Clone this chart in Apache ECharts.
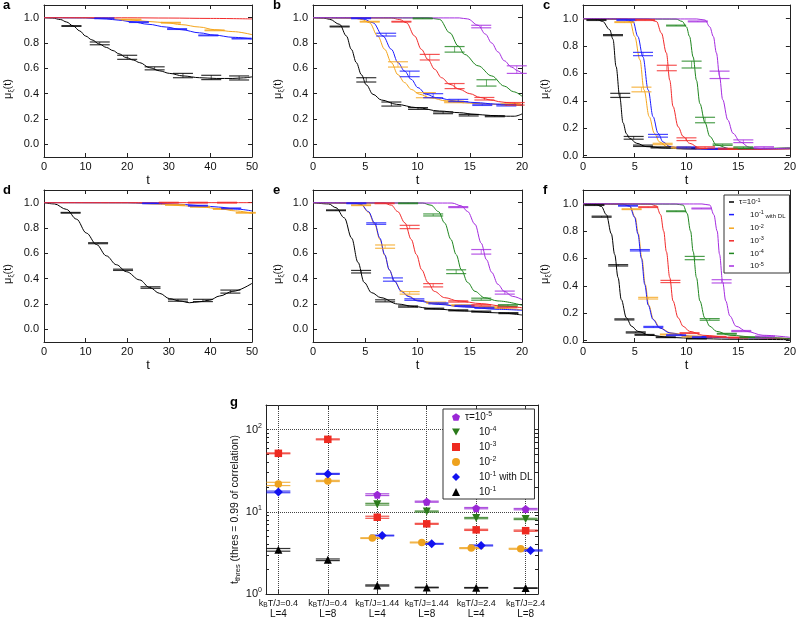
<!DOCTYPE html>
<html><head><meta charset="utf-8">
<script src="https://cdn.jsdelivr.net/npm/echarts@6/dist/echarts.min.js"></script>
<style>html,body{margin:0;padding:0;background:#fff}#c{width:799px;height:626px}</style>
</head><body><div id="c"></div>
<script>
// ---------- Panel a (t 0..50) ----------
const aK = [[0,1],[2,0.997],[4,0.985],[5.4,0.966],[7,0.935],[8.6,0.895],[10,0.855],[11.5,0.825],[13.4,0.79],[15,0.765],[16.6,0.74],[18,0.715],[19.8,0.685],[21.5,0.665],[23,0.645],[25.4,0.605],[27.8,0.58],[30.2,0.56],[33.4,0.54],[37.4,0.526],[41.4,0.52],[45.4,0.52],[48,0.525],[50,0.533]];
const aKBars = [[6.6,0.934,0.003],[13.4,0.797,0.011],[20,0.687,0.016],[26.6,0.6,0.012],[33.4,0.543,0.017],[40.2,0.528,0.017],[46.9,0.524,0.016]];
const aDL = [[0,1],[10,0.998],[15,0.99],[18,0.98],[21.4,0.966],[25,0.948],[29.4,0.926],[33,0.905],[37.4,0.88],[41,0.862],[45.4,0.845],[50,0.832]];
const aDLBars = [[14.5,0.995,0.003],[22.8,0.965,0.003],[32,0.91,0.003],[39.5,0.86,0.003],[47.5,0.835,0.003]];
const aO = [[0,1],[12,0.998],[17,0.99],[21.4,0.98],[25,0.97],[29.4,0.96],[33,0.945],[37.4,0.926],[41,0.905],[45.4,0.89],[50,0.866]];
const aOBars = [[21,0.985,0.003],[30.5,0.96,0.003],[41,0.9,0.003]];
const aR = [[0,1],[20,0.999],[30,0.997],[40,0.994],[50,0.99]];
// ---------- Panel b (t 0..20) ----------
const bK = [[0,1],[1,0.997],[1.6,0.987],[2.55,0.947],[3.2,0.855],[3.67,0.75],[4.15,0.645],[4.63,0.55],[5.1,0.47],[5.74,0.395],[6.55,0.35],[7.98,0.316],[9.9,0.29],[12.1,0.263],[14,0.25],[15.5,0.237],[17,0.228],[18.5,0.222],[19.3,0.222],[20,0.24]];
const bKBars = [[2.55,0.93,0.003],[5.1,0.509,0.017],[7.5,0.318,0.016],[10.05,0.283,0.007],[12.45,0.249,0.007],[14.9,0.23,0.006],[17.4,0.222,0.004]];
const bDL = [[0,1],[4,0.998],[4.8,0.99],[5.74,0.96],[6.7,0.855],[7.5,0.75],[8.13,0.645],[8.77,0.578],[9.4,0.513],[10.05,0.447],[10.85,0.395],[11.8,0.368],[13.7,0.342],[15.5,0.33],[17.5,0.318],[20,0.308]];
const bDLBars = [[4.6,0.995,0.003],[7.0,0.866,0.011],[9.25,0.556,0.022],[11.5,0.384,0.016],[13.9,0.346,0.009],[16.2,0.312,0.005],[18.5,0.308,0.005]];
const bO = [[0,1],[3.8,0.998],[4.7,0.985],[5.4,0.96],[6.2,0.855],[6.86,0.75],[7.5,0.645],[8.13,0.55],[8.77,0.487],[9.4,0.434],[10.2,0.395],[11.2,0.368],[12.8,0.342],[15,0.325],[17.5,0.315],[20,0.305]];
const bOBars = [[5.43,0.968,0.003],[8.13,0.631,0.021],[10.8,0.388,0.02],[13.5,0.335,0.006],[18.9,0.315,0.005]];
const bR = [[0,1],[7.5,0.998],[8.3,0.985],[8.94,0.96],[9.73,0.855],[10.37,0.75],[11,0.67],[11.65,0.592],[12.3,0.526],[13.1,0.474],[14.04,0.434],[15,0.4],[16,0.37],[17,0.35],[18,0.335],[19,0.325],[20,0.315]];
const bRBars = [[8.46,0.968,0.003],[11.17,0.688,0.022],[13.55,0.46,0.02],[16.4,0.36,0.01],[19.3,0.32,0.01]];
const bG = [[0,1],[11,0.998],[12.1,0.987],[13.1,0.88],[13.9,0.776],[14.5,0.71],[15.8,0.62],[17.1,0.54],[18.3,0.46],[19.2,0.415],[20,0.38]];
const bGBars = [[10.5,0.994,0.003],[13.55,0.75,0.022],[16.6,0.485,0.025]];
const bP = [[0,1],[14,0.998],[14.8,0.99],[15.8,0.94],[16.5,0.87],[17.1,0.8],[17.7,0.73],[18.3,0.66],[19,0.61],[19.6,0.58],[20,0.56]];
const bPBars = [[16.1,0.93,0.01],[19.5,0.59,0.03]];
// ---------- Panel c ----------
const cK = [[0,1],[1.3,0.997],[1.9,0.98],[2.58,0.92],[2.9,0.85],[3.2,0.65],[3.55,0.43],[3.87,0.24],[4.2,0.16],[4.5,0.127],[5.2,0.09],[6.1,0.066],[8,0.055],[11,0.05],[15,0.05],[20,0.055]];
const cKBars = [[1.3,0.99,0.003],[2.9,0.88,0.004],[3.6,0.44,0.015],[4.9,0.13,0.01],[5.8,0.072,0.005],[7.5,0.06,0.004],[10,0.055,0.004]];
const cDL = [[0,1],[4.2,0.997],[4.84,0.98],[5.3,0.87],[5.8,0.72],[6.3,0.48],[6.77,0.285],[7.26,0.163],[7.74,0.1],[8.4,0.066],[9.7,0.05],[13,0.045],[20,0.05]];
const cDLBars = [[4.2,0.99,0.003],[5.8,0.742,0.012],[7.25,0.145,0.01],[10,0.06,0.004],[13,0.05,0.004]];
const cO = [[0,1],[3.9,0.997],[4.55,0.98],[5.0,0.87],[5.5,0.7],[5.9,0.48],[6.4,0.285],[6.9,0.163],[7.4,0.1],[8.1,0.066],[9.4,0.05],[13,0.045],[20,0.05]];
const cOBars = [[4.0,0.975,0.003],[5.65,0.483,0.017],[7.7,0.085,0.005],[9.5,0.06,0.004]];
const cR = [[0,1],[6.3,0.997],[7.1,0.98],[7.58,0.895],[8.06,0.75],[8.39,0.55],[8.7,0.36],[9.2,0.21],[9.68,0.14],[10.3,0.09],[11.3,0.054],[14,0.045],[20,0.05]];
const cRBars = [[6.0,0.99,0.003],[8.1,0.64,0.02],[10.0,0.12,0.01],[11.8,0.06,0.005],[14,0.05,0.004]];
const cG = [[0,1],[9,0.997],[9.6,0.98],[10,0.94],[10.3,0.87],[10.65,0.72],[10.97,0.55],[11.3,0.38],[11.8,0.24],[12.26,0.14],[12.9,0.078],[14.2,0.05],[20,0.055]];
const cGBars = [[9.0,0.95,0.003],[10.5,0.665,0.025],[11.8,0.26,0.02],[13.5,0.08,0.005],[15.5,0.06,0.004]];
const cP = [[0,1],[11,0.998],[11.8,0.99],[12.26,0.94],[12.6,0.87],[12.9,0.75],[13.2,0.58],[13.5,0.41],[14,0.26],[14.5,0.163],[15.2,0.1],[16.1,0.06],[17.4,0.05],[20,0.055]];
const cPBars = [[11.1,0.98,0.003],[13.2,0.59,0.027],[15.5,0.105,0.01],[17.5,0.06,0.005]];
// ---------- Panel d ----------
const dK = [[0,1],[2.5,0.99],[5.4,0.947],[7.8,0.87],[10.2,0.76],[12.6,0.67],[15,0.58],[17.4,0.51],[19.8,0.455],[23,0.39],[25.4,0.33],[27.8,0.284],[30.2,0.242],[32.6,0.224],[35,0.21],[37.4,0.218],[39.8,0.23],[42.2,0.263],[45.4,0.3],[50,0.363]];
const dKBars = [[6.4,0.92,0.003],[13,0.68,0.004],[19,0.47,0.005],[25.6,0.33,0.006],[32.2,0.23,0.008],[38.2,0.228,0.009],[44.8,0.298,0.012]];
const dDL = [[0,1],[20,0.999],[28,0.993],[34,0.985],[38,0.975],[42,0.965],[46,0.95],[50,0.935]];
const dDLBars = [[26,0.995,0.003],[37,0.976,0.003],[45,0.955,0.003]];
const dO = [[0,1],[20,0.998],[28,0.988],[34,0.975],[38,0.965],[42,0.953],[46,0.935],[50,0.915]];
const dOBars = [[31.5,0.982,0.003],[37.5,0.967,0.003],[43,0.95,0.003],[48.5,0.92,0.003]];
const dR = [[0,1],[50,1]];
const dRBars = [[30,1,0.003],[37,1,0.003],[44,1,0.003]];
// ---------- Panel e ----------
const eK = [[0,1],[1.5,0.99],[2.2,0.96],[3.0,0.88],[3.7,0.72],[4.3,0.53],[4.9,0.37],[5.6,0.29],[6.5,0.25],[8.1,0.2],[9.7,0.18],[11.3,0.163],[14.5,0.145],[17.7,0.13],[20,0.113]];
const eKBars = [[2.2,0.94,0.003],[4.6,0.455,0.01],[6.9,0.225,0.008],[9.1,0.18,0.005],[11.6,0.163,0.004],[13.9,0.15,0.004],[16.1,0.14,0.004],[18.7,0.128,0.004]];
const eDL = [[0,1],[4,0.997],[4.6,0.987],[5.3,0.93],[5.9,0.84],[6.4,0.72],[6.86,0.59],[7.3,0.47],[7.8,0.38],[8.45,0.3],[9.1,0.26],[10,0.224],[12,0.197],[14.5,0.176],[17.7,0.158],[20,0.15]];
const eDLBars = [[4.15,0.995,0.003],[6.05,0.835,0.006],[7.65,0.393,0.013],[9.7,0.235,0.006],[12,0.205,0.004],[14.5,0.185,0.004],[16.4,0.17,0.004]];
const eO = [[0,1],[4,0.997],[4.6,0.985],[5.3,0.925],[5.9,0.83],[6.4,0.71],[6.86,0.585],[7.3,0.47],[7.8,0.38],[8.45,0.305],[9.1,0.265],[10,0.23],[12,0.2],[14.5,0.18],[17.7,0.165],[20,0.155]];
const eOBars = [[4.6,0.98,0.003],[6.9,0.653,0.013],[9.25,0.288,0.01],[11.8,0.21,0.005],[14.2,0.19,0.004],[16.8,0.175,0.004]];
const eR = [[0,1],[6.8,0.997],[7.5,0.98],[8.1,0.93],[8.8,0.84],[9.4,0.71],[9.9,0.59],[10.4,0.47],[11,0.37],[11.6,0.3],[12.6,0.25],[13.9,0.224],[16.1,0.203],[18,0.185],[20,0.17]];
const eRBars = [[6.85,0.995,0.003],[9.25,0.808,0.013],[11.5,0.348,0.013],[13.9,0.22,0.005],[16.1,0.19,0.005],[18.6,0.175,0.004]];
const eG = [[0,1],[10.5,0.997],[11.3,0.98],[12,0.93],[12.6,0.84],[13.2,0.71],[13.7,0.59],[14.2,0.47],[14.8,0.37],[15.5,0.3],[16.4,0.25],[17.7,0.224],[20,0.19]];
const eGBars = [[9.1,0.995,0.003],[11.5,0.903,0.008],[13.7,0.455,0.015],[16.1,0.238,0.008],[18.65,0.19,0.005]];
const eP = [[0,1],[13.3,0.997],[14.2,0.975],[14.8,0.93],[15.5,0.83],[16.1,0.68],[16.6,0.55],[17.1,0.45],[17.7,0.355],[18.3,0.3],[19.1,0.26],[20,0.235]];
const ePBars = [[13.9,0.965,0.004],[16.1,0.612,0.018],[18.35,0.29,0.012]];
// ---------- Panel f ----------
const fK = [[0,1],[1.2,0.997],[1.77,0.98],[2.26,0.92],[2.74,0.78],[3.06,0.63],[3.39,0.46],[3.7,0.3],[4.2,0.166],[4.7,0.105],[5.3,0.068],[6.45,0.039],[8.4,0.024],[11,0.015],[14.2,0.01],[20,0.007]];
const fKBars = [[1.1,0.99,0.003],[1.8,0.905,0.004],[3.4,0.55,0.005],[4.0,0.155,0.004],[5.1,0.06,0.004],[5.95,0.042,0.003],[8,0.025,0.003],[11,0.015,0.003]];
const fDL = [[0,1],[3.8,0.997],[4.5,0.983],[5,0.9],[5.3,0.78],[5.65,0.6],[5.97,0.41],[6.3,0.26],[6.77,0.154],[7.4,0.093],[8.4,0.056],[10.3,0.032],[14.2,0.02],[20,0.015]];
const fDLBars = [[4.35,0.985,0.003],[5.5,0.66,0.005],[6.8,0.1,0.004],[9,0.04,0.003],[11.5,0.025,0.003]];
const fO = [[0,1],[3.8,0.997],[4.55,0.983],[5.05,0.9],[5.35,0.78],[5.7,0.6],[6.02,0.41],[6.35,0.26],[6.82,0.154],[7.45,0.093],[8.5,0.056],[10.4,0.032],[14.2,0.02],[20,0.015]];
const fOBars = [[4.7,0.96,0.003],[6.3,0.31,0.006],[8.4,0.045,0.003],[10.5,0.03,0.003]];
const fR = [[0,1],[6.5,0.997],[7.1,0.983],[7.5,0.92],[7.8,0.8],[8.06,0.65],[8.39,0.46],[8.7,0.29],[9.2,0.166],[9.68,0.105],[10.3,0.068],[11.6,0.039],[14.2,0.024],[20,0.015]];
const fRBars = [[6.3,0.975,0.003],[8.45,0.432,0.008],[10.3,0.055,0.003],[12.9,0.028,0.003],[15,0.022,0.003]];
const fG = [[0,1],[9,0.997],[9.68,0.99],[10.06,0.93],[10.4,0.8],[10.65,0.65],[10.97,0.46],[11.3,0.29],[11.77,0.166],[12.26,0.105],[12.9,0.068],[14.2,0.039],[16.8,0.024],[20,0.015]];
const fGBars = [[9.0,0.945,0.003],[10.8,0.603,0.012],[12.25,0.155,0.006],[13.9,0.05,0.003],[16.1,0.025,0.003]];
const fP = [[0,1],[11.5,0.998],[12.26,0.99],[12.65,0.92],[12.97,0.8],[13.2,0.63],[13.5,0.43],[13.8,0.29],[14.2,0.18],[14.8,0.105],[15.8,0.068],[17.4,0.039],[20,0.024]];
const fPBars = [[11.45,0.965,0.003],[13.4,0.433,0.012],[15.3,0.07,0.004],[17.6,0.03,0.003]];
// ---------- Panel g (log scale) ----------
const gKT = ['0.4','0.4','1.44','1.44','2.4','2.4'];
const gL = ['4','8','4','8','4','8'];
const gPos = [0,1,2,3,4,5];
const gGridY = [10,100];
const gP = [[2,16.2,0.4],[3,13.3,0.2],[4,11.1,0.2],[5,10.8,0.2]];
const gG = [[2,12.4,0.3],[3,10.1,0.15],[4,8.4,0.15],[5,8.2,0.15]];
const gR = [[0,51.6,0.6],[1,76.4,1.0],[2,8.6,0.25],[3,7.15,0.1],[4,6.04,0.1],[5,5.9,0.1]];
const gO = [[0,21.9,1.0],[1,23.8,0.4],[1.9,4.79,0.05],[2.9,4.24,0.05],[3.9,3.62,0.05],[4.9,3.55,0.05]];
const gDL = [[0,17.5,0.4],[1,29,0.4],[2.1,5.15,0.05],[3.1,4.08,0.05],[4.1,3.9,0.05],[5.1,3.39,0.05]];
const gK = [[0,3.45,0.13],[1,2.61,0.06],[2,1.27,0.02],[3,1.2,0.01],[4,1.19,0.01],[5,1.18,0.01]];
const gLogTicks = [1,2,3,4,5,6,7,8,9,10,20,30,40,50,60,70,80,90,100,200];
const yTicks = [0,0.2,0.4,0.6,0.8,1.0];

const FONT = '"Liberation Sans", Arial, Helvetica, sans-serif';
const COL = {k:'#000000', dl:'#1a1aff', o:'#f5a51c', r:'#f22a2a', g:'#1f861f', p:'#a52ce0'};
const GCOL = {k:'#000000', dl:'#1212f0', o:'#eea21e', r:'#ee2a20', g:'#2a7a1a', p:'#9a27d6'};
const ORDER = ['k','o','dl','r','g','p'];
const NAMES = {k:'τ=10^-1', dl:'τ=10^-1 with DL', o:'τ=10^-2', r:'τ=10^-3', g:'τ=10^-4', p:'τ=10^-5'};

const PANELS = [
  {lab:'a', left:44, top:5, width:208, height:152, xmax:50, xint:10, ymin:-0.1, nameGap:29,
   curves:{k:aK, dl:aDL, o:aO, r:aR}, bars:{k:aKBars, dl:aDLBars, o:aOBars}},
  {lab:'b', left:313, top:5, width:209, height:152, xmax:20, xint:5, ymin:-0.1, nameGap:28,
   curves:{k:bK, dl:bDL, o:bO, r:bR, g:bG, p:bP}, bars:{k:bKBars, dl:bDLBars, o:bOBars, r:bRBars, g:bGBars, p:bPBars}},
  {lab:'c', left:583, top:5, width:207, height:152, xmax:20, xint:5, ymin:-0.01, nameGap:31,
   curves:{k:cK, dl:cDL, o:cO, r:cR, g:cG, p:cP}, bars:{k:cKBars, dl:cDLBars, o:cOBars, r:cRBars, g:cGBars, p:cPBars}},
  {lab:'d', left:44, top:190, width:208, height:152, xmax:50, xint:10, ymin:-0.1, nameGap:29,
   curves:{k:dK, dl:dDL, o:dO, r:dR}, bars:{k:dKBars, dl:dDLBars, o:dOBars, r:dRBars}},
  {lab:'e', left:313, top:190, width:209, height:152, xmax:20, xint:5, ymin:-0.1, nameGap:28,
   curves:{k:eK, dl:eDL, o:eO, r:eR, g:eG, p:eP}, bars:{k:eKBars, dl:eDLBars, o:eOBars, r:eRBars, g:eGBars, p:ePBars}},
  {lab:'f', left:583, top:190, width:207, height:152, xmax:20, xint:5, ymin:-0.01, nameGap:31,
   curves:{k:fK, dl:fDL, o:fO, r:fR, g:fG, p:fP}, bars:{k:fKBars, dl:fDLBars, o:fOBars, r:fRBars, g:fGBars, p:fPBars}}
];

function barRenderer(hw) {
  return function (params, api) {
    const x = api.value(0), y = api.value(1), e = api.value(2);
    const hi = api.coord([x, y + e]), lo = api.coord([x, y - e]);
    const color = api.visual('color');
    const st = {stroke: color, lineWidth: 1.2, opacity: 0.8};
    return {type: 'group', children: [
      {type: 'line', shape: {x1: hi[0] - hw, y1: hi[1], x2: hi[0] + hw, y2: hi[1]}, style: st},
      {type: 'line', shape: {x1: lo[0] - hw, y1: lo[1], x2: lo[0] + hw, y2: lo[1]}, style: st},
      {type: 'line', shape: {x1: hi[0], y1: hi[1], x2: lo[0], y2: lo[1]}, style: {stroke: color, lineWidth: 0.8, opacity: 0.8}}
    ]};
  };
}

const grid = [], xAxis = [], yAxis = [], series = [], title = [];
const axLine = {show: true, onZero: false, lineStyle: {color: '#222', width: 1}};
const tickIn = {show: true, inside: true, length: 4, lineStyle: {color: '#222'}};

PANELS.forEach((p, i) => {
  grid.push({left: p.left, top: p.top, width: p.width, height: p.height});
  const xBase = {gridIndex: i, type: 'value', min: 0, max: p.xmax, interval: p.xint, axisLine: axLine, axisTick: tickIn, splitLine: {show: false}};
  xAxis.push(Object.assign({}, xBase, {position: 'bottom', name: 't', nameLocation: 'middle', nameGap: 17,
    nameTextStyle: {fontSize: 13, fontFamily: FONT, color: '#111'},
    axisLabel: {fontSize: 11, fontFamily: FONT, color: '#111', margin: 4}}));
  xAxis.push(Object.assign({}, xBase, {position: 'top', axisLabel: {show: false}}));
  const yBase = {gridIndex: i, type: 'value', min: p.ymin, max: 1.1, axisLine: axLine, splitLine: {show: false},
    axisTick: Object.assign({}, tickIn, {customValues: yTicks})};
  yAxis.push(Object.assign({}, yBase, {position: 'left', name: '{m|μ}{s|ξ}{m|(t)}', nameLocation: 'middle', nameGap: p.nameGap,
    nameTextStyle: {fontFamily: FONT, color: '#111', padding: [0, 16, 0, 0],
      rich: {m: {fontSize: 11, lineHeight: 14, fontFamily: FONT}, s: {fontSize: 7, lineHeight: 8, verticalAlign: 'bottom', fontFamily: FONT}}},
    axisLabel: {customValues: yTicks, formatter: v => v.toFixed(1), fontSize: 11, fontFamily: FONT, color: '#111', margin: 5}}));
  yAxis.push(Object.assign({}, yBase, {position: 'right', axisLabel: {show: false}}));
  title.push({text: p.lab, left: p.left - (p.lab === 'a' || p.lab === 'd' ? 41 : 40), top: p.top - 6});
  ORDER.forEach(k => {
    if (p.curves[k]) series.push({type: 'line', name: NAMES[k], xAxisIndex: 2 * i, yAxisIndex: 2 * i,
      data: p.curves[k], showSymbol: false, symbol: 'none', smooth: 0.35, smoothMonotone: 'x',
      lineStyle: {width: 1, color: COL[k]}, itemStyle: {color: COL[k]}, z: 2, silent: true});
  });
  ORDER.forEach(k => {
    if (p.bars[k]) series.push({type: 'custom', name: NAMES[k] + ' err', xAxisIndex: 2 * i, yAxisIndex: 2 * i,
      data: p.bars[k], renderItem: barRenderer(10), itemStyle: {color: COL[k]}, encode: {x: 0, y: 1}, z: 3, silent: true});
  });
});

// Panel g
const gi = PANELS.length;
grid.push({left: 266, top: 405, width: 272, height: 189});
const gx = {gridIndex: gi, type: 'value', min: -0.25, max: 5.25, axisLine: axLine, splitLine: {show: false},
  axisTick: Object.assign({}, tickIn, {customValues: gPos})};
xAxis.push(Object.assign({}, gx, {position: 'bottom',
  axisLabel: {customValues: gPos, margin: 5, color: '#111', fontFamily: FONT,
    formatter: v => { const i = Math.round(v); return '{k|k}{b|B}{k|T/J=' + gKT[i] + '}\n{l|L=' + gL[i] + '}'; },
    rich: {k: {fontSize: 9, lineHeight: 10, fontFamily: FONT, color: '#111'},
           b: {fontSize: 6.5, lineHeight: 6, verticalAlign: 'bottom', fontFamily: FONT, color: '#111'},
           l: {fontSize: 10, lineHeight: 10, fontFamily: FONT, color: '#111'}}}}));
xAxis.push(Object.assign({}, gx, {position: 'top', axisLabel: {show: false}}));
const gy = {gridIndex: gi, type: 'log', logBase: 10, min: 1, max: 200, interval: 1, axisLine: axLine,
  splitLine: {show: false}, axisTick: Object.assign({}, tickIn, {length: 3, customValues: gLogTicks})};
const supFmt = v => { const e = Math.round(Math.log10(v)); return Math.abs(Math.pow(10, e) - v) < 1e-6 * v ? '{n|10}{s|' + e + '}' : ''; };
yAxis.push(Object.assign({}, gy, {position: 'left',
  name: '{t|t}{s|thres}{t| (thres = 0.99 of correlation)}', nameLocation: 'middle', nameGap: 21,
  nameTextStyle: {fontFamily: FONT, color: '#111', padding: [0, 20, 0, 0],
    rich: {t: {fontSize: 10.5, lineHeight: 13, fontFamily: FONT}, s: {fontSize: 7.5, lineHeight: 7, verticalAlign: 'bottom', fontFamily: FONT}}},
  axisLabel: {formatter: supFmt, margin: 4, fontFamily: FONT, color: '#111',
    rich: {n: {fontSize: 11, lineHeight: 14, fontFamily: FONT, color: '#111'}, s: {fontSize: 7, lineHeight: 7, verticalAlign: 'top', fontFamily: FONT, color: '#111'}}}}));
yAxis.push(Object.assign({}, gy, {position: 'right', axisLabel: {show: false}}));
title.push({text: 'g', left: 230, top: 396});

const G_SERIES = [
  ['p', gP, 'τ=10^-5 (g)', 'path://M5,0L10,3.6L8.1,9.5L1.9,9.5L0,3.6Z', 8],
  ['g', gG, 'τ=10^-4 (g)', 'path://M0,0L10,0L5,9Z', 8],
  ['r', gR, 'τ=10^-3 (g)', 'rect', 7.5],
  ['o', gO, 'τ=10^-2 (g)', 'circle', 7.5],
  ['dl', gDL, 'τ=10^-1 with DL (g)', 'diamond', 9],
  ['k', gK, 'τ=10^-1 (g)', 'triangle', 8]
];
G_SERIES.forEach(([k, data, name]) => {
  series.push({type: 'custom', name: name + ' err', xAxisIndex: 2 * gi, yAxisIndex: 2 * gi, data: data,
    renderItem: barRenderer(12), itemStyle: {color: GCOL[k]}, encode: {x: 0, y: 1}, z: 3, silent: true});
});
G_SERIES.forEach(([k, data, name, sym, size]) => {
  const s = {type: 'scatter', name: name, xAxisIndex: 2 * gi, yAxisIndex: 2 * gi, data: data.map(d => [d[0], d[1]]),
    symbol: sym, symbolSize: size, itemStyle: {color: GCOL[k], opacity: 1}, z: 4, silent: true};
  if (k === 'k') s.markLine = {silent: true, symbol: ['none', 'none'], label: {show: false}, z: 1,
    lineStyle: {type: 'dotted', color: '#444', width: 1},
    data: gPos.map(x => ({xAxis: x})).concat(gGridY.map(y => ({yAxis: y})))};
  series.push(s);
});

const F_LEG = {
  'τ=10^-1': '{n|τ=10}{s|-1}',
  'τ=10^-1 with DL': '{pad| }{n|10}{s|-1}{w| with DL}',
  'τ=10^-2': '{pad| }{n|10}{s|-2}',
  'τ=10^-3': '{pad| }{n|10}{s|-3}',
  'τ=10^-4': '{pad| }{n|10}{s|-4}',
  'τ=10^-5': '{pad| }{n|10}{s|-5}'
};
const G_LEG = {
  'τ=10^-5 (g)': '{n|τ=10}{s|-5}',
  'τ=10^-4 (g)': '{pad| }{n|10}{s|-4}',
  'τ=10^-3 (g)': '{pad| }{n|10}{s|-3}',
  'τ=10^-2 (g)': '{pad| }{n|10}{s|-2}',
  'τ=10^-1 with DL (g)': '{pad| }{n|10}{s|-1}{n| with DL}',
  'τ=10^-1 (g)': '{pad| }{n|10}{s|-1}'
};

const option = {
  animation: false,
  backgroundColor: '#fff',
  textStyle: {fontFamily: FONT},
  title: title.map(t => Object.assign(t, {padding: 0, textStyle: {fontSize: 13, fontWeight: 'bold', fontFamily: FONT, color: '#000'}})),
  grid: grid, xAxis: xAxis, yAxis: yAxis, series: series,
  legend: [
    {data: ['τ=10^-1', 'τ=10^-1 with DL', 'τ=10^-2', 'τ=10^-3', 'τ=10^-4', 'τ=10^-5'],
     orient: 'vertical', left: 724, top: 195, padding: [2, 4, 3, 5], itemWidth: 5, itemHeight: 1.5, itemGap: 3.6,
     icon: 'rect', selectedMode: false, borderColor: '#333', borderWidth: 1, backgroundColor: '#fff',
     formatter: n => F_LEG[n],
     textStyle: {fontSize: 8, color: '#111', fontFamily: FONT,
       rich: {n: {fontSize: 8, lineHeight: 10, fontFamily: FONT, color: '#111'},
              s: {fontSize: 5.5, lineHeight: 5, verticalAlign: 'top', fontFamily: FONT, color: '#111'},
              w: {fontSize: 6, lineHeight: 8, verticalAlign: 'bottom', fontFamily: FONT, color: '#111'},
              pad: {width: 11, fontSize: 8}}}},
    {data: G_SERIES.map(s => s[2]),
     orient: 'vertical', left: 443, top: 409, padding: [2, 2, 2, 9], itemWidth: 8, itemHeight: 8, itemGap: 4,
     selectedMode: false, borderColor: '#333', borderWidth: 1, backgroundColor: '#fff',
     formatter: n => G_LEG[n],
     textStyle: {fontSize: 10, color: '#111', fontFamily: FONT,
       rich: {n: {fontSize: 10, lineHeight: 12, fontFamily: FONT, color: '#111'},
              s: {fontSize: 7, lineHeight: 6, verticalAlign: 'top', fontFamily: FONT, color: '#111'},
              pad: {width: 14, fontSize: 10}}}}
  ]
};
const chart = echarts.init(document.getElementById('c'), null, {renderer: 'canvas'});
chart.setOption(option);
</script></body></html>
